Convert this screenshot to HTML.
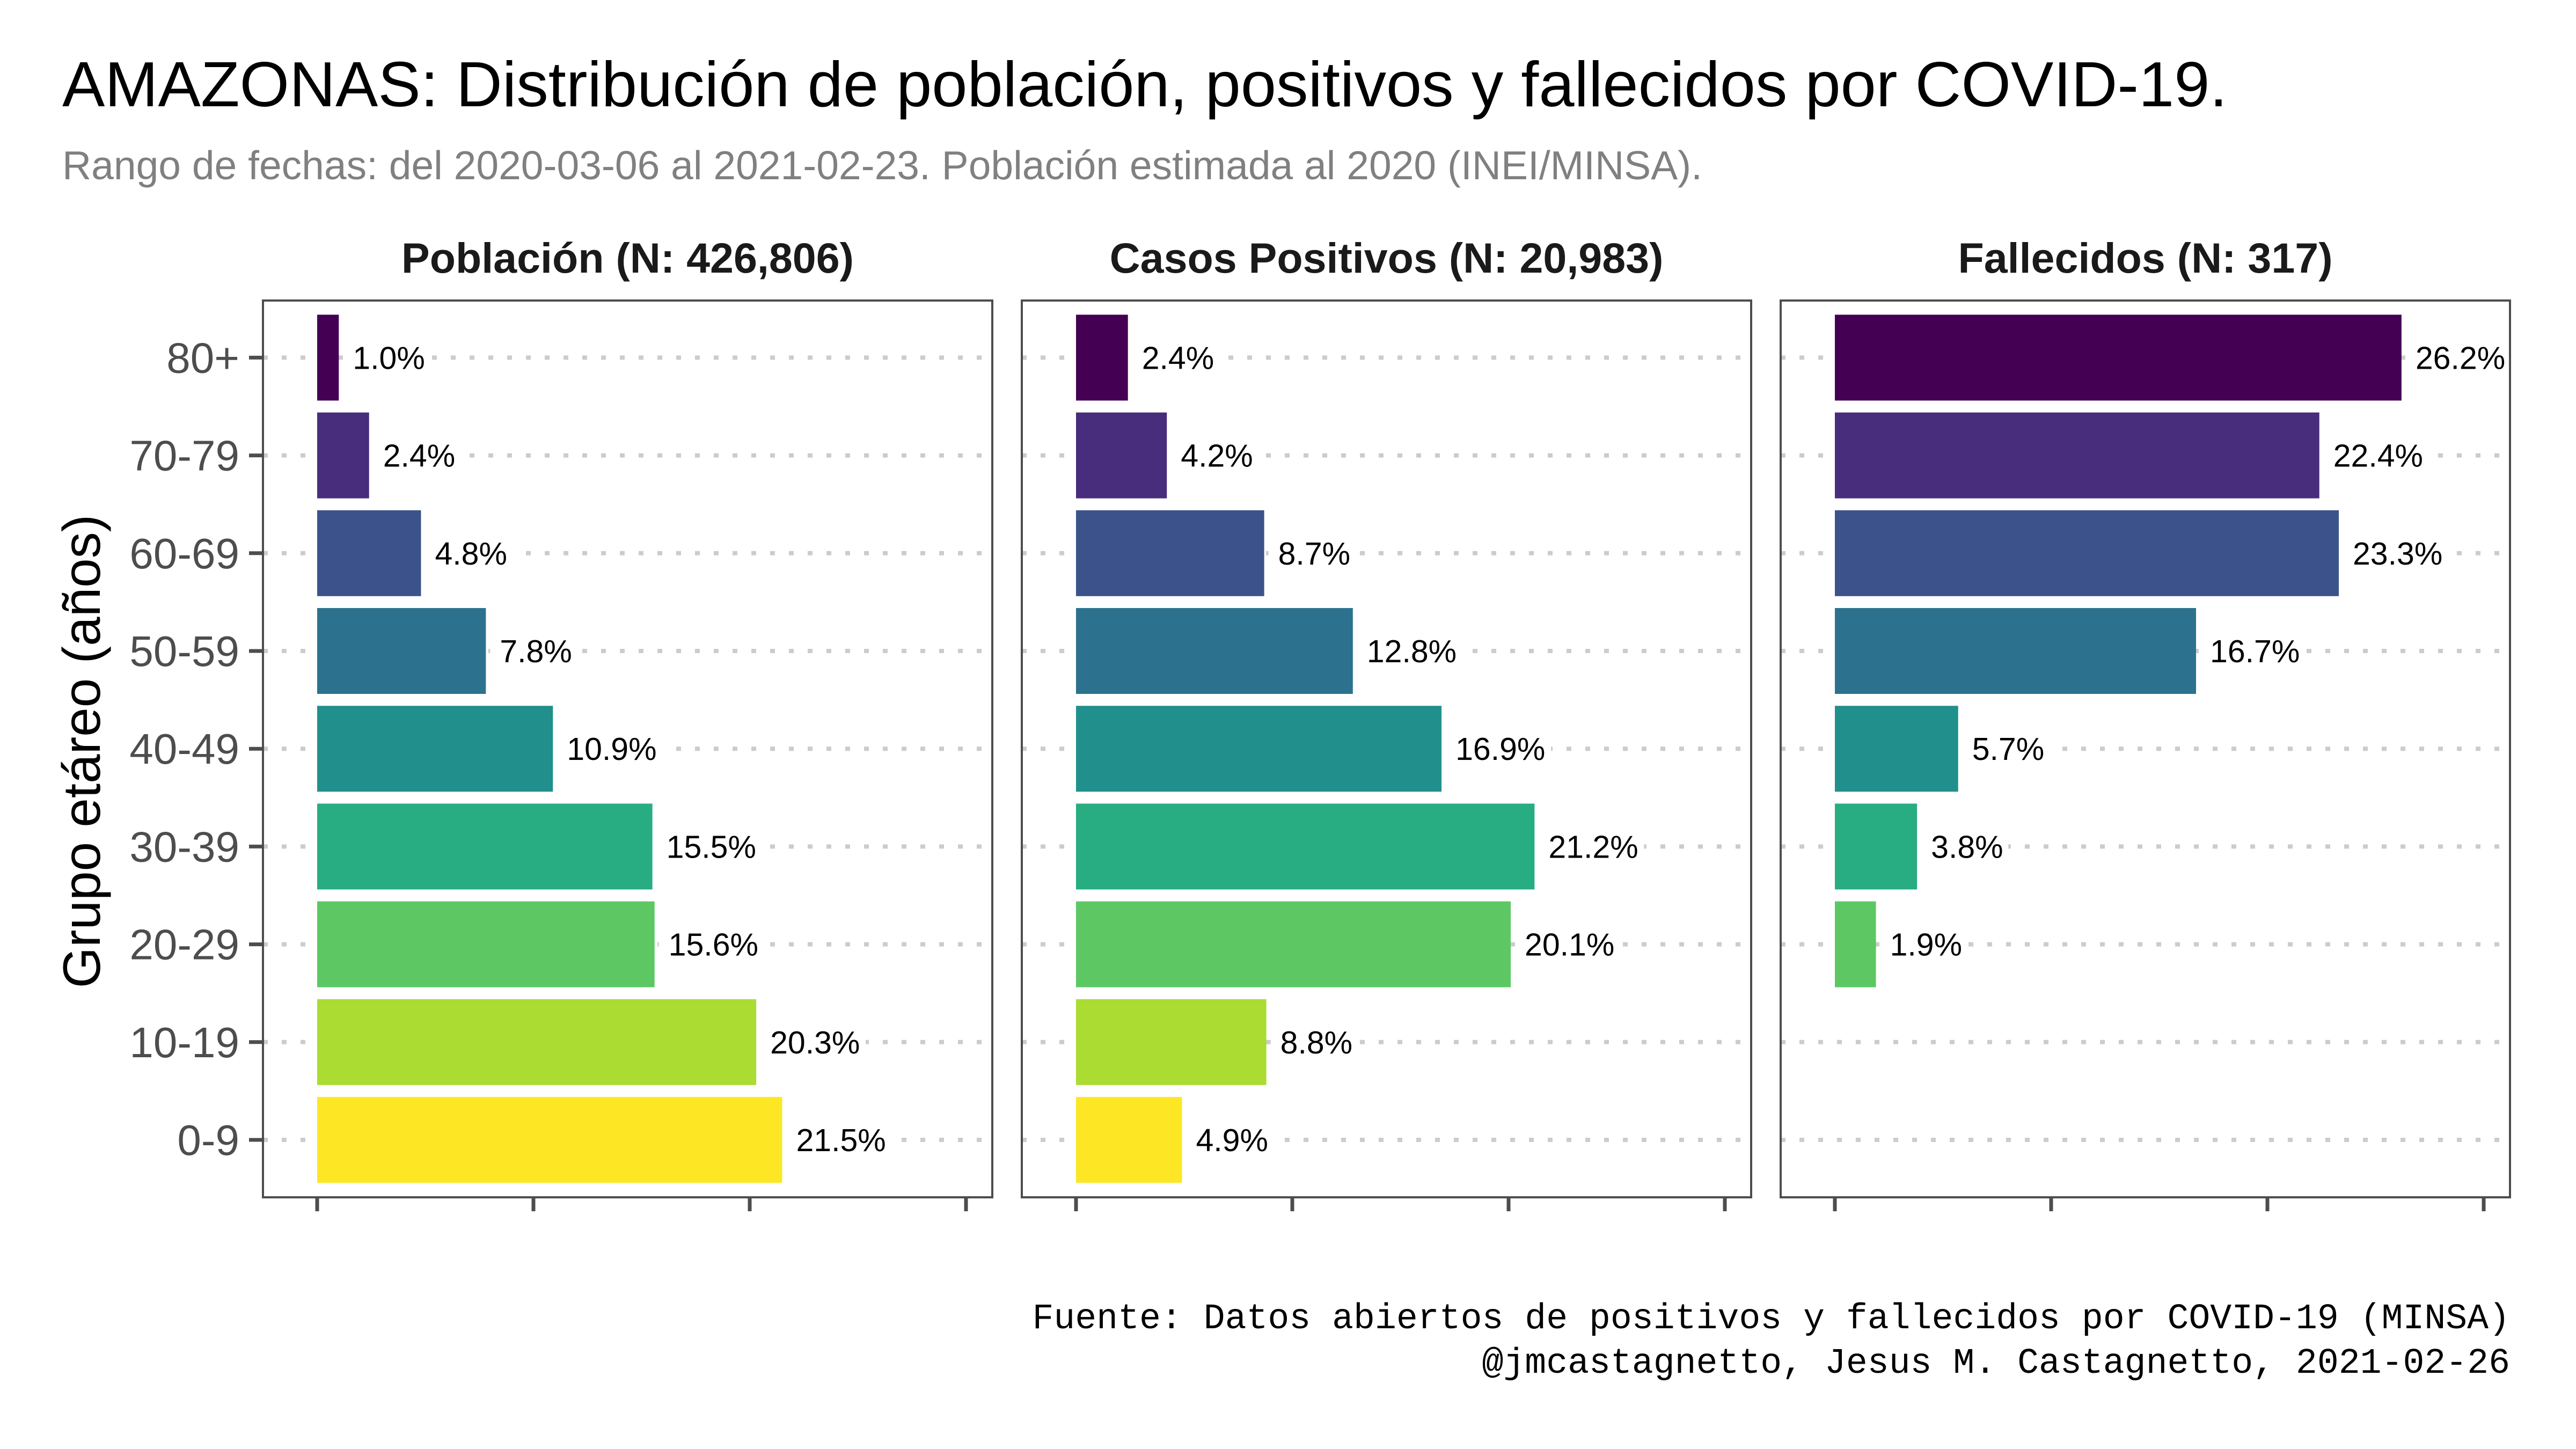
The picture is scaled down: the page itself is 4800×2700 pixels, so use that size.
<!DOCTYPE html>
<html><head><meta charset="utf-8"><style>
html,body{margin:0;padding:0;background:#fff;}
svg{display:block;font-family:"Liberation Sans",sans-serif;}
</style></head><body>
<svg id="chart" width="4800" height="2700" viewBox="0 0 4800 2700" xmlns="http://www.w3.org/2000/svg">
<rect x="0" y="0" width="4800" height="2700" fill="#fff"/>
<text x="116" y="198" font-size="119" fill="#000">AMAZONAS: Distribución de población, positivos y fallecidos por COVID-19.</text>
<text x="116" y="334" font-size="75" fill="#808080">Rango de fechas: del 2020-03-06 al 2021-02-23. Población estimada al 2020 (INEI/MINSA).</text>
<text transform="translate(186,1400) rotate(-90)" text-anchor="middle" font-size="98" fill="#000">Grupo etáreo (años)</text>
<text x="4677" y="2475" text-anchor="end" font-family="Liberation Mono, monospace" font-size="66.5" fill="#000">Fuente: Datos abiertos de positivos y fallecidos por COVID-19 (MINSA)</text>
<text x="4677" y="2558" text-anchor="end" font-family="Liberation Mono, monospace" font-size="66.5" fill="#000">@jmcastagnetto, Jesus M. Castagnetto, 2021-02-26</text>
<g id="panels"></g>
</svg>
<script>
const categories = ["0-9","10-19","20-29","30-39","40-49","50-59","60-69","70-79","80+"];
const poblacion = [21.5,20.3,15.6,15.5,10.9,7.8,4.8,2.4,1.0];
const positivos = [4.9,8.8,20.1,21.2,16.9,12.8,8.7,4.2,2.4];
const fallecidos = [null,null,1.9,3.8,5.7,16.7,23.3,22.4,26.2];
const panelTitles = ["Población (N: 426,806)","Casos Positivos (N: 20,983)","Fallecidos (N: 317)"];
const xTicks = [0,10,20,30];
const colors = ["#FDE725","#AADC32","#5DC863","#27AD81","#21908C","#2C728E","#3B528B","#472D7B","#440154"];

const NS="http://www.w3.org/2000/svg";
const gPanels=document.getElementById('panels');
function mk(tag,attrs,parent){const e=document.createElementNS(NS,tag);for(const k in attrs)e.setAttribute(k,attrs[k]);(parent||gPanels).appendChild(e);return e;}
const panelLefts=[490,1904,3318], panelW=1359, panelTop=560, panelBottom=2231;
const pxPerPct=40.3, barOffset=101;
function yPos(i){return 2124-i*182.2;}
const series=[poblacion,positivos,fallecidos];
series.forEach((vals,p)=>{
  const L=panelLefts[p];
  const x0=L+barOffset;
  const xs=v=>x0+v*pxPerPct;
  const pg=mk('g',{});
  
  
  const t=mk('text',{x:L+panelW/2,y:panelTop-52,'text-anchor':'middle','font-size':79,'font-weight':'bold',fill:'#1a1a1a'},pg);
  t.textContent=panelTitles[p];
  
  
  categories.forEach((c,i)=>{
    const gl=mk('line',{x1:L,x2:L+panelW,y1:yPos(i),y2:yPos(i),stroke:'#cccccc','stroke-width':8,'stroke-dasharray':'9 26'},pg);
    
    
  });
  vals.forEach((v,i)=>{
    if(v==null)return;
    const r=mk('rect',{x:x0,y:yPos(i)-80,width:v*pxPerPct,height:160,fill:colors[i]},pg);
    
    
    const label=v.toFixed(1)+'%';
    const bg=mk('rect',{x:xs(v)+8,y:yPos(i)-36,width:label.length*34+26,height:72,fill:'#fff'},pg);
    
    
    const lt=mk('text',{x:xs(v)+26,y:yPos(i)+21,'font-size':59,fill:'#000'},pg);
    lt.textContent=label;
    
    
  });
  const b=mk('rect',{x:L,y:panelTop,width:panelW,height:panelBottom-panelTop,fill:'none',stroke:'#4d4d4d','stroke-width':4},pg);
  
  
  xTicks.forEach(tk=>{
    const tl=mk('line',{x1:xs(tk),x2:xs(tk),y1:panelBottom,y2:panelBottom+26,stroke:'#4d4d4d',"stroke-width":7},pg);
    
    
  });
});
categories.forEach((c,i)=>{
  const tl=mk('line',{x1:464,x2:490,y1:yPos(i),y2:yPos(i),stroke:'#4d4d4d','stroke-width':7});
  
  
  const t=mk('text',{x:446,y:yPos(i)+28,'text-anchor':'end','font-size':80,fill:'#4d4d4d'});
  t.textContent=c;
  
  
});
</script>
</body></html>
